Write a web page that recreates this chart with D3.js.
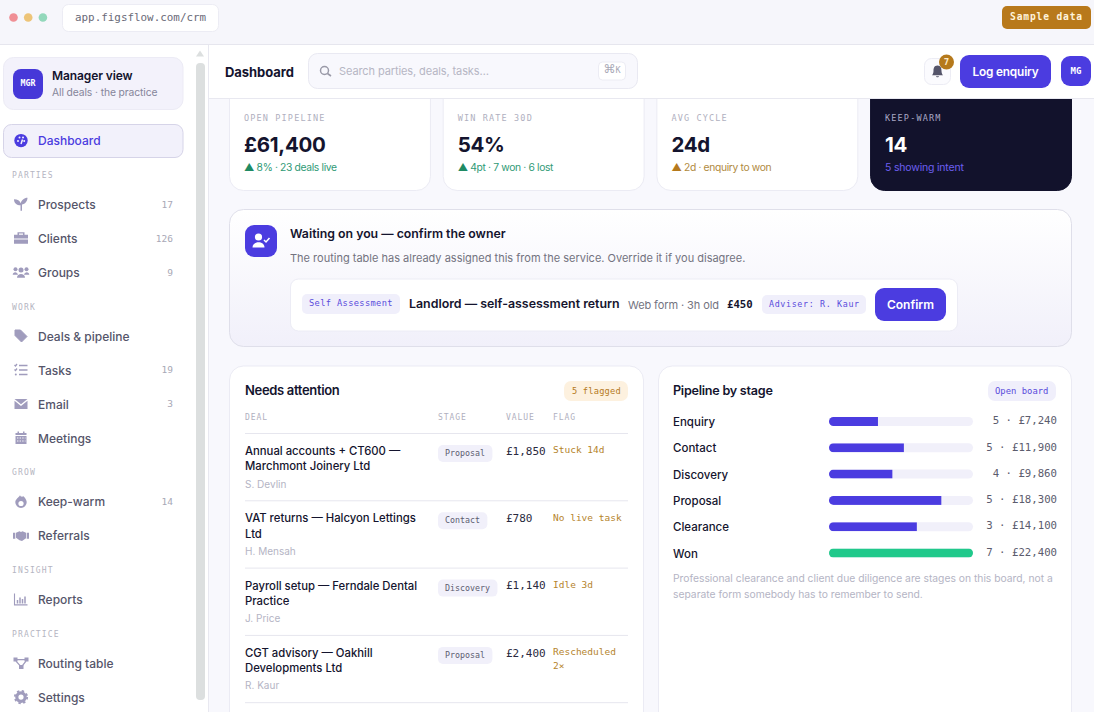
<!DOCTYPE html>
<html>
<head>
<meta charset="utf-8">
<title>CRM dashboard</title>
<script src="https://cdn.jsdelivr.net/npm/d3@7"></script>
<style>
  html, body { margin: 0; padding: 0; background: #f8f8fd; overflow: hidden; }
  svg { display: block; }
</style>
</head>
<body>
<div id="chart"></div>
<script>
// data
var navGroups = [
  { title: null, items: ["Dashboard"] },
  { title: "PARTIES", items: ["Prospects", "Clients", "Groups"] },
  { title: "WORK", items: ["Deals & pipeline", "Tasks", "Email", "Meetings"] },
  { title: "GROW", items: ["Keep-warm", "Referrals"] },
  { title: "INSIGHT", items: ["Reports"] },
  { title: "PRACTICE", items: ["Routing table", "Settings"] }
];
var navCounts = { "Prospects": 17, "Clients": 126, "Groups": 9, "Tasks": 19, "Email": 3, "Keep-warm": 14 };

var kpiLabels = ["OPEN PIPELINE", "WIN RATE 30D", "AVG CYCLE", "KEEP-WARM"];
var kpiValues = ["£61,400", "54%", "24d", "14"];
var kpiNotes = ["▲ 8% · 23 deals live", "▲ 4pt · 7 won · 6 lost", "▲ 2d · enquiry to won", "5 showing intent"];

var dealTitles = [
  ["Annual accounts + CT600 —", "Marchmont Joinery Ltd"],
  ["VAT returns — Halcyon Lettings", "Ltd"],
  ["Payroll setup — Ferndale Dental", "Practice"],
  ["CGT advisory — Oakhill", "Developments Ltd"]
];
var dealOwners = ["S. Devlin", "H. Mensah", "J. Price", "R. Kaur"];
var dealStages = ["Proposal", "Contact", "Discovery", "Proposal"];
var dealValues = ["£1,850", "£780", "£1,140", "£2,400"];
var dealFlags = [["Stuck 14d"], ["No live task"], ["Idle 3d"], ["Rescheduled", "2×"]];
var tableHeads = ["DEAL", "STAGE", "VALUE", "FLAG"];

var stages = ["Enquiry", "Contact", "Discovery", "Proposal", "Clearance", "Won"];
var stageFill = [34, 52, 44, 78, 61, 100];
var stageCounts = [5, 5, 4, 5, 3, 7];
var stageTotals = ["£7,240", "£11,900", "£9,860", "£18,300", "£14,100", "£22,400"];

// look
var SANS = "Inter, 'Noto Sans', sans-serif";
var MONO = "'DejaVu Sans Mono', monospace";
var INDIGO = "#4b3ce0", INK = "#14142e", GREY = "#6c6c80", PALE = "#b4b4c4", AMBER = "#b5791c", ICON = "#a09cbd";

var svg = d3.select("#chart").append("svg").attr("width", 1094).attr("height", 712);
var defs = svg.append("defs");

function box(p, x, y, w, h, r, fill, stroke) {
  return p.append("rect").attr("x", x).attr("y", y).attr("width", w).attr("height", h)
    .attr("rx", r).attr("fill", fill).attr("stroke", stroke || "none");
}
function txt(p, x, y, s, size, color, o) {
  o = o || {};
  return p.append("text").attr("x", x).attr("y", y).attr("dy", "0.35em").text(s)
    .attr("font-family", o.font || SANS).attr("font-size", size).attr("fill", color)
    .attr("font-weight", o.weight || 400).attr("letter-spacing", o.ls || 0)
    .attr("text-anchor", o.anchor || "start");
}

// icons, centred on 0,0
var icons = {
  "Dashboard": function (g, c) {
    g.append("circle").attr("r", 6.7).attr("fill", c);
    [[-3, 0.5], [-1.5, -3], [2, -3], [3.2, 0.5]].forEach(function (d) {
      g.append("circle").attr("cx", d[0]).attr("cy", d[1]).attr("r", 1).attr("fill", "#f2f1fb");
    });
    g.append("path").attr("d", "M0 3.5L1.5 -1").attr("stroke", "#f2f1fb").attr("stroke-width", 1.5);
  },
  "Prospects": function (g, c) {
    g.append("path").attr("fill", c).attr("d", "M-0.5 6.5V1C-4 1 -7 -1 -7 -5C-3.5 -5 -1 -3.5 -0.5 -1C0.5 -4 3 -6.5 6.5 -6.5C6.5 -3 4 0 1 0.3V6.5Z");
  },
  "Clients": function (g, c) {
    g.append("path").attr("fill", c).attr("d", "M-7 -3.5H7V0.2H-7ZM-7 1.3H7V5.5H-7ZM-3.5 -3.5V-6H3.5V-3.5H2V-4.7H-2V-3.5Z");
  },
  "Groups": function (g, c) {
    [[-5.5, -3, 2], [5.5, -3, 2], [0, -2.2, 2.5]].forEach(function (d) {
      g.append("circle").attr("cx", d[0]).attr("cy", d[1]).attr("r", d[2]).attr("fill", c);
    });
    g.append("path").attr("fill", c).attr("d", "M-8.3 2.5C-8.3 -1 -3.5 -1 -3 2.5ZM8.3 2.5C8.3 -1 3.5 -1 3 2.5ZM-4 5.5C-4 0.5 4 0.5 4 5.5Z");
  },
  "Deals & pipeline": function (g, c) {
    g.append("path").attr("fill", c).attr("d", "M-6 -6H-0.5L6 0.5L0.5 6L-6 -0.5Z").attr("stroke", c).attr("stroke-linejoin", "round");
  },
  "Tasks": function (g, c) {
    g.append("path").attr("fill", "none").attr("stroke", c).attr("stroke-width", 1.3)
      .attr("d", "M-2 -4.5H6.5M-2 0H6.5M-2 4.5H6.5M-6.5 -5L-5.5 -4L-4 -6M-6.5 -0.5L-5.5 0.5L-4 -1.5");
    g.append("circle").attr("cx", -5.2).attr("cy", 4.5).attr("r", 1).attr("fill", c);
  },
  "Email": function (g, c) {
    g.append("path").attr("fill", c).attr("d", "M-6.5 -5H6.5L0 0.2ZM-6.5 -3.2V5H6.5V-3.2L0 2Z");
  },
  "Meetings": function (g, c) {
    g.append("path").attr("fill", c).attr("d", "M-5.5 -5H5.5V-3H-5.5ZM-3.5 -6.5H-2V-5H-3.5ZM2 -6.5H3.5V-5H2ZM-5.5 -2H5.5V6H-5.5Z");
    g.append("path").attr("stroke", "#fff").attr("stroke-width", 0.9).attr("stroke-dasharray", "1.4 1.2")
      .attr("d", "M-4 0H4.5M-4 3H4.5");
  },
  "Keep-warm": function (g, c) {
    g.append("path").attr("fill", c).attr("d", "M-1 -6.5C0 -4.5 1.5 -5 2.5 -5.5C5 -3 5.7 -1 5.7 0.5A5.7 5.7 0 0 1 -5.7 0.5C-5.7 -2.5 -2.5 -4 -1 -6.5Z");
    g.append("circle").attr("cy", 1.8).attr("r", 2.6).attr("fill", "#fff");
  },
  "Referrals": function (g, c) {
    g.append("path").attr("fill", c).attr("d", "M-8 -3H-5.7V3H-8ZM5.7 -3H8V3H5.7ZM-5 -3L-1.5 -4.5L0 -3.7L1.5 -4.5L5 -3V2.5L1 5.2L-1.5 4.5L-5 2Z");
  },
  "Reports": function (g, c) {
    g.append("path").attr("fill", "none").attr("stroke", c).attr("stroke-width", 1.1).attr("d", "M-6.5 -6V5.5H6.5");
    g.append("path").attr("stroke", c).attr("stroke-width", 1.5).attr("d", "M-3.5 4V0.5M-1 4V-2M1.5 4V-0.5M4 4V-3");
  },
  "Routing table": function (g, c) {
    g.append("path").attr("fill", c).attr("d", "M-7.5 -5.5H-3.5V-1.5H-7.5ZM3.5 -5.5H7.5V-1.5H3.5ZM-2 2H2.5V6H-2Z");
    g.append("path").attr("stroke", c).attr("stroke-width", 1.3).attr("fill", "none").attr("d", "M-4 -3.5H4M-5 -2L-0.5 3M5 -2L1 3");
  },
  "Settings": function (g, c) {
    g.append("circle").attr("r", 4.2).attr("fill", "none").attr("stroke", c).attr("stroke-width", 3.2);
    g.append("circle").attr("r", 6.2).attr("fill", "none").attr("stroke", c).attr("stroke-width", 1.8).attr("stroke-dasharray", "2.4 2.47");
  }
};

// ----- main area, drawn first so the header can cover it
svg.append("rect").attr("width", 1094).attr("height", 712).attr("fill", "#f8f8fd");

var kpiX = d3.scaleBand().domain(kpiLabels).range([229, 1072]).padding(0).paddingInner(0.055);
kpiLabels.forEach(function (label, i) {
  var x = kpiX(label), dark = i == 3;
  var g = svg.append("g");
  box(g, x + 0.5, 80.5, kpiX.bandwidth() - 1, 110, 14, dark ? "#12122c" : "#fff", dark ? "#12122c" : "#ebebf4");
  txt(g, x + 15, 118, label, 8.5, dark ? "#a9a8c4" : "#b0b0c0", { font: MONO, ls: 1.15 });
  txt(g, x + 15, 145, kpiValues[i], 20.5, dark ? "#fff" : INK, { weight: 700, ls: -0.3 });
  var col = ["#2f9a76", "#2f9a76", "#b08a3e", "#6d5ff0"][i];
  var note = txt(g, x + 15, 167.5, "", dark ? 10.5 : 10.3, col, { ls: dark ? -0.2 : -0.35 });
  if (dark) note.text(kpiNotes[i]);
  else {
    note.append("tspan").attr("fill", i == 2 ? AMBER : "#1f8a63").text("▲");
    note.append("tspan").text(kpiNotes[i].slice(1));
  }
});

// waiting card
var grad = defs.append("linearGradient").attr("id", "waitFill").attr("x1", 0).attr("x2", 0).attr("y1", 0).attr("y2", 1);
grad.append("stop").attr("offset", "0%").attr("stop-color", "#ffffff");
grad.append("stop").attr("offset", "100%").attr("stop-color", "#f1f0fa");
box(svg, 229.5, 209.5, 842, 137, 14, "url(#waitFill)", "#dfdfea");
box(svg, 245, 225, 32, 32, 9, INDIGO);
var person = svg.append("g").attr("transform", "translate(261,241)").attr("fill", "#fff");
person.append("circle").attr("cx", -2.5).attr("cy", -4).attr("r", 3.6);
person.append("path").attr("d", "M-8.5 6.5C-8.5 -0.5 3.5 -0.5 3.5 6.5Z");
person.append("path").attr("d", "M3 -1L5 1L8.5 -3").attr("fill", "none").attr("stroke", "#fff").attr("stroke-width", 1.5);
txt(svg, 290, 233.5, "Waiting on you — confirm the owner", 12.3, INK, { weight: 600 });
txt(svg, 290, 258, "The routing table has already assigned this from the service. Override it if you disagree.", 11, "#73737f", {});
box(svg, 290.5, 279, 667, 52, 8, "#fff", "#ececf5");
box(svg, 302, 294, 98, 20, 5, "#f0effb");
txt(svg, 309, 303, "Self Assessment", 8.7, "#5a4cdc", { font: MONO, ls: 0.36 });
txt(svg, 409, 303.5, "Landlord — self-assessment return", 12.4, INK, { weight: 600 });
txt(svg, 628, 305, "Web form · 3h old", 11, "#73737f", { ls: -0.1 });
txt(svg, 727, 304.5, "£450", 10.7, INK, { font: MONO, weight: 700 });
box(svg, 762, 295, 104, 19, 5, "#f0effb");
txt(svg, 769, 304, "Adviser: R. Kaur", 8.4, "#5a4cdc", { font: MONO, ls: 0.63 });
box(svg, 875, 288, 71, 33, 9, INDIGO);
txt(svg, 910.5, 304.5, "Confirm", 12, "#fff", { weight: 600, anchor: "middle" });

// needs attention
box(svg, 229.5, 366, 414, 400, 14, "#fff", "#ebebf4");
txt(svg, 245, 390.5, "Needs attention", 13, INK, { weight: 600, ls: -0.33 });
box(svg, 564, 381, 64, 20, 7, "#fdf1df");
txt(svg, 572, 390.5, "5 flagged", 8.7, AMBER, { font: MONO, ls: 0.2 });

var colX = d3.scaleOrdinal().domain(tableHeads).range([245, 438, 506, 553]);
tableHeads.forEach(function (h) {
  txt(svg, colX(h), 417.5, h, 8, "#b0b0c0", { font: MONO, ls: 0.95 });
});
var rowY = d3.scaleLinear().domain([0, 1]).range([433.5, 500.8]);
d3.range(5).forEach(function (i) {
  svg.append("line").attr("x1", 245).attr("x2", 628).attr("y1", rowY(i)).attr("y2", rowY(i)).attr("stroke", "#e6e6ee");
});
dealTitles.forEach(function (lines, i) {
  var top = rowY(i);
  lines.forEach(function (l, k) {
    txt(svg, 245, top + 17.5 + k * 15.3, l, 11.3, INK, { weight: 500 });
  });
  txt(svg, 245, top + 50.5, dealOwners[i], 10, PALE, {});
  var w = dealStages[i].length * 5.05 + 14;
  box(svg, 438, top + 11.5, w, 17, 5, "#f1f0fa");
  txt(svg, 445, top + 19.5, dealStages[i], 8.3, "#5c5c70", { font: MONO });
  txt(svg, 506, top + 17.5, dealValues[i], 11, "#2a2a40", { font: MONO });
  dealFlags[i].forEach(function (l, k) {
    txt(svg, 553, top + 16.5 + k * 14, l, 9.5, "#b5842c", { font: MONO });
  });
});

// pipeline by stage
box(svg, 658.5, 366, 413, 400, 14, "#fff", "#ebebf4");
txt(svg, 673, 390.5, "Pipeline by stage", 12.6, INK, { weight: 600, ls: -0.25 });
box(svg, 988, 381, 68, 20, 7, "#f0effb");
txt(svg, 995, 390.5, "Open board", 8.9, "#5a4cdc", { font: MONO });

var stageY = d3.scalePoint().domain(stages).range([421.5, 553]);
var fillX = d3.scaleLinear().domain([0, 100]).range([829, 973]);
var rows = svg.selectAll("g.stage").data(stages).enter().append("g").attr("class", "stage");
rows.each(function (s, i) {
  var g = d3.select(this), y = stageY(s);
  defs.append("clipPath").attr("id", "track" + i).append("rect")
    .attr("x", fillX(0)).attr("y", y - 4.5).attr("width", fillX(100) - fillX(0)).attr("height", 9).attr("rx", 4.5);
  txt(g, 673, y + 0.5, s, 11.5, INK, { weight: 500 });
  box(g, fillX(0), y - 4.5, fillX(100) - fillX(0), 9, 4.5, "#f1f0fa");
  g.append("rect").attr("clip-path", "url(#track" + i + ")")
    .attr("x", fillX(0)).attr("y", y - 4.5).attr("height", 9)
    .attr("width", fillX(stageFill[i]) - fillX(0))
    .attr("fill", s == "Won" ? "#20c98b" : INDIGO);
  txt(g, 1057, y - 1, stageCounts[i] + " · " + stageTotals[i], 10.7, "#5c5c6e", { font: MONO, anchor: "end" });
});
txt(svg, 673, 578, "Professional clearance and client due diligence are stages on this board, not a", 10.3, PALE, {});
txt(svg, 673, 594, "separate form somebody has to remember to send.", 10.3, PALE, {});

// ----- header
svg.append("rect").attr("x", 209).attr("y", 45).attr("width", 885).attr("height", 53).attr("fill", "#fff");
svg.append("line").attr("x1", 209).attr("x2", 1094).attr("y1", 98.5).attr("y2", 98.5).attr("stroke", "#e8e8f0");
txt(svg, 225, 72, "Dashboard", 13, INK, { weight: 700, ls: -0.05 });
box(svg, 308.5, 53.5, 329, 35, 9, "#f8f8fd", "#e9e9f2");
svg.append("circle").attr("cx", 324.5).attr("cy", 70.5).attr("r", 4).attr("fill", "none").attr("stroke", "#9a9aa8").attr("stroke-width", 1.5);
svg.append("line").attr("x1", 327.5).attr("y1", 73.5).attr("x2", 331).attr("y2", 76).attr("stroke", "#9a9aa8").attr("stroke-width", 1.6);
txt(svg, 339, 71.5, "Search parties, deals, tasks…", 11, "#b6b6c4", { ls: -0.1 });
box(svg, 598.5, 62, 27, 18, 4, "#fff", "#ececf4");
var kbd = txt(svg, 612, 70, "", 8.5, "#a8a8b6", { font: MONO, anchor: "middle" });
kbd.append("tspan").attr("font-size", 12).attr("font-family", "'DejaVu Sans', sans-serif").text("⌘");
kbd.append("tspan").text("K");

box(svg, 924.5, 58.5, 26, 26, 7, "#fbfbfe", "#ececf4");
svg.append("path").attr("fill", "#55556a").attr("d", "M937.5 65.5C934 65.5 933.5 68.5 933.5 71C933.5 73.5 932.5 74.5 932 75.3H943C942.5 74.5 941.5 73.5 941.5 71C941.5 68.5 941 65.5 937.5 65.5ZM936 76.2H939C939 77.7 936 77.7 936 76.2Z");
svg.append("circle").attr("cx", 946.5).attr("cy", 62).attr("r", 7.5).attr("fill", AMBER);
txt(svg, 946.5, 61.5, "7", 9, "#fde9c8", { font: MONO, weight: 700, anchor: "middle" });
box(svg, 960, 55, 91, 33, 9, INDIGO);
txt(svg, 1005.5, 72, "Log enquiry", 11.8, "#fff", { weight: 600, anchor: "middle", ls: -0.15 });
box(svg, 1061, 56, 30, 30, 9, INDIGO);
txt(svg, 1076, 71, "MG", 9, "#fff", { font: MONO, weight: 700, anchor: "middle" });

// ----- browser strip
svg.append("rect").attr("width", 1094).attr("height", 44.5).attr("fill", "#f6f6fb");
svg.append("line").attr("x1", 0).attr("x2", 1094).attr("y1", 44.5).attr("y2", 44.5).attr("stroke", "#e6e6ee");
["#f08f95", "#edc478", "#93d8bb"].forEach(function (c, i) {
  svg.append("circle").attr("cx", 13.5 + i * 14.7).attr("cy", 17.5).attr("r", 4.3).attr("fill", c);
});
box(svg, 62.5, 4.5, 156, 27, 6, "#fff", "#ececf4");
txt(svg, 75, 17.5, "app.figsflow.com/crm", 10.9, "#6a6a78", { font: MONO });
box(svg, 1002, 6, 89, 23, 5, "#b8791b");
txt(svg, 1046.5, 16.5, "Sample data", 9.6, "#fff3dc", { font: MONO, weight: 700, anchor: "middle", ls: 0.85 });

// ----- sidebar
svg.append("rect").attr("y", 45).attr("width", 208).attr("height", 667).attr("fill", "#fff");
svg.append("line").attr("x1", 208.5).attr("x2", 208.5).attr("y1", 45).attr("y2", 712).attr("stroke", "#e8e8f0");
svg.append("path").attr("d", "M200 50.5L204 56.5H196Z").attr("fill", "#dcdfdf");
box(svg, 196, 63, 9, 637, 4, "#dcdfdf");

box(svg, 3.5, 57.5, 179.5, 52, 10, "#f3f2fb", "#ecebf5");
box(svg, 13, 69, 30, 30, 8, "#4638d8");
txt(svg, 28, 83.5, "MGR", 8.3, "#fff", { font: MONO, weight: 700, anchor: "middle" });
txt(svg, 52, 75.5, "Manager view", 12, INK, { weight: 600, ls: -0.1 });
txt(svg, 52, 92, "All deals · the practice", 10.3, "#85859a", { ls: -0.1 });

box(svg, 3.5, 124.5, 179.5, 33, 8, "#f2f1fb", "#d6d4e8");

// walk the groups down the sidebar
var navY = 140.6;
navGroups.forEach(function (group) {
  if (group.title) {
    txt(svg, 12, navY + 0.4, group.title, 8, "#b5b5c2", { font: MONO, ls: 1.15 });
    navY += 29.7;
  }
  group.items.forEach(function (item) {
    var on = item == "Dashboard";
    var ic = svg.append("g").attr("transform", "translate(21," + navY + ")");
    icons[item](ic, on ? INDIGO : ICON);
    txt(svg, 38, navY + 0.3, item, 12, on ? INDIGO : "#55556a", { weight: 500 });
    if (navCounts[item] != null) txt(svg, 173, navY, navCounts[item], 9.5, "#a8a8b6", { font: MONO, anchor: "end" });
    navY += 34;
  });
});
</script>
</body>
</html>
